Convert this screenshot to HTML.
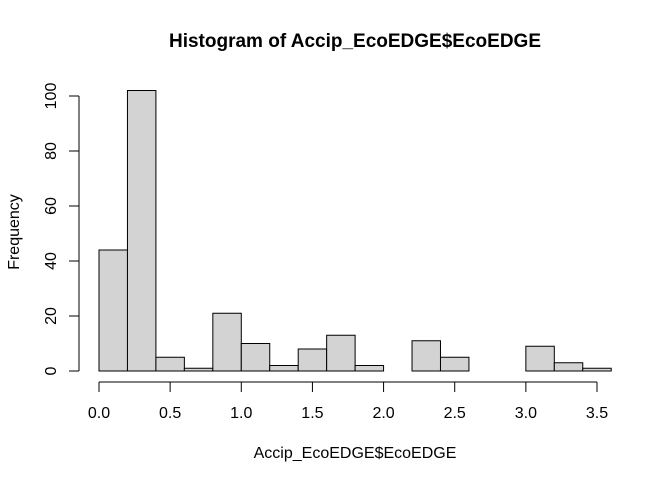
<!DOCTYPE html>
<html><head><meta charset="utf-8"><style>
body{margin:0;background:#fff}
svg text{font-family:"Liberation Sans",sans-serif;fill:#000}
</style></head><body>
<svg id="chart" width="672" height="480">
<text x="355" y="47" font-size="19" font-weight="bold" text-anchor="middle">Histogram of Accip_EcoEDGE$EcoEDGE</text>
<text x="355" y="458" font-size="16" text-anchor="middle">Accip_EcoEDGE$EcoEDGE</text>
<text transform="translate(19,232) rotate(-90)" font-size="16" text-anchor="middle">Frequency</text>
<g id="bars"></g><g id="xaxis"></g><g id="yaxis"></g>
</svg>
<script>
const binStarts=[0,0.2,0.4,0.6,0.8,1.0,1.2,1.4,1.6,1.8,2.0,2.2,2.4,2.6,2.8,3.0,3.2,3.4];
const binWidth=0.2;
const counts=[44,102,5,1,21,10,2,8,13,2,0,11,5,0,0,9,3,1];
const xTicks=[0,0.5,1,1.5,2,2.5,3,3.5];
const xTickLabels=["0.0","0.5","1.0","1.5","2.0","2.5","3.0","3.5"];
const yTicks=[0,20,40,60,80,100];
const NS="http://www.w3.org/2000/svg";
const xs=v=>99+v*(597-99)/3.5;
const ys=v=>371-v*2.75;
function mk(t,a,p){const e=document.createElementNS(NS,t);for(const k in a)e.setAttribute(k,a[k]);p.appendChild(e);return e;}
const bars=document.getElementById('bars');
binStarts.forEach((b,i)=>{
 const x0=xs(b),x1=xs(b+binWidth),y=ys(counts[i]);
 const r=mk('rect',{x:x0,y:y,width:x1-x0,height:ys(0)-y,fill:'#d3d3d3',stroke:'#000','stroke-width':1},bars);
 
 
});
const xa=document.getElementById('xaxis');
const xl=mk('line',{x1:xs(xTicks[0]),x2:xs(xTicks[xTicks.length-1]),y1:382,y2:382,stroke:'#000'},xa);


xTicks.forEach((t,i)=>{
 mk('line',{x1:xs(t),x2:xs(t),y1:382,y2:392,stroke:'#000'},xa);
 const tx=mk('text',{x:xs(t),y:418,'font-size':16,'text-anchor':'middle'},xa);
 tx.textContent=xTickLabels[i];
 
 
});
const ya=document.getElementById('yaxis');
const yl=mk('line',{x1:79,x2:79,y1:ys(0),y2:ys(100),stroke:'#000'},ya);


yTicks.forEach(t=>{
 mk('line',{x1:69,x2:79,y1:ys(t),y2:ys(t),stroke:'#000'},ya);
 const tx=mk('text',{transform:`translate(56,${ys(t)}) rotate(-90)`,'font-size':16,'text-anchor':'middle'},ya);
 tx.textContent=t;
 
 
});
</script>
</body></html>
